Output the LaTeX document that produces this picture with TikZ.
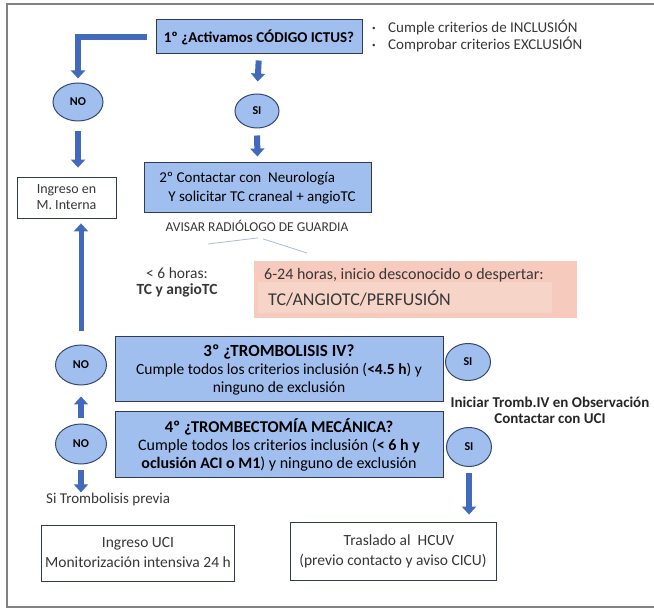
\documentclass[tikz,border=0pt]{standalone}
\usepackage{fontspec}
\setmainfont{Carlito}
\usetikzlibrary{arrows.meta, positioning, calc, shapes}
\definecolor{boxblue}{RGB}{160,190,238}
\definecolor{boxedge}{RGB}{50,58,80}
\definecolor{arrowblue}{RGB}{66,106,188}
\definecolor{circedge}{RGB}{52,72,112}
\definecolor{softpink}{RGB}{246,202,188}
\definecolor{palepink}{RGB}{247,212,200}
\definecolor{textgray}{RGB}{55,55,55}
\definecolor{framegray}{RGB}{130,130,130}
\definecolor{linkblue}{RGB}{165,190,210}

\begin{document}
\begin{tikzpicture}[x=1pt, y=-1pt,
  font=\fontsize{15}{18}\selectfont,
  bluebox/.style={draw=boxedge, fill=boxblue, line width=1pt, align=center, inner sep=2pt},
  whitebox/.style={draw=boxedge, fill=white, line width=0.8pt, align=center, text=textgray},
  answer/.style={ellipse, draw=circedge, fill=boxblue, line width=1pt, inner sep=0pt,
    minimum width=50pt, minimum height=38pt, font=\fontsize{12}{13}\selectfont\bfseries},
  blockarrow/.style={draw=arrowblue, line width=6pt, line join=miter,
    -{Triangle[length=8pt, width=14pt]}},
  note/.style={text=textgray, align=center, inner sep=1pt}]
  \useasboundingbox (0,0) rectangle (654,609);
  % page frame
  \draw[framegray, line width=1.2pt] (660,4) -- (7,4) -- (7,607) -- (660,607);
  % step 1
  \node[bluebox, minimum width=206pt, minimum height=34pt,
    font=\fontsize{15}{17}\selectfont\bfseries] (q1) at (259,37) {1º ¿Activamos CÓDIGO ICTUS?};
  \node[note, anchor=west, align=left, font=\fontsize{15}{17}\selectfont] (crit) at (371,36)
    {\makebox[16pt][l]{\raisebox{0.25ex}{\fontsize{7}{7}\selectfont\textbullet}}Cumple criterios de INCLUSIÓN\\
     \makebox[16pt][l]{\raisebox{0.25ex}{\fontsize{7}{7}\selectfont\textbullet}}Comprobar criterios EXCLUSIÓN};
  \node[answer] (no1) at (78,102) {NO};
  \node[answer, minimum width=44pt, minimum height=34pt] (si1) at (257,111) {SI};
  % step 2
  \node[bluebox, minimum width=227pt, minimum height=50pt, align=left,
    font=\fontsize{15}{19}\selectfont] (q2) at (257.5,188)
    {2º Contactar con \ Neurología\\ \hspace{9pt}Y solicitar TC craneal + angioTC};
  \node[whitebox, minimum width=99pt, minimum height=41pt,
    font=\fontsize{14}{16}\selectfont] (im) at (66.5,197.5) {Ingreso en\\ M. Interna};
  \node[note, font=\fontsize{13.5}{15}\selectfont] (avisar) at (257,226) {AVISAR RADIÓLOGO DE GUARDIA};
  \coordinate (lt6top) at (208,244);
  \coordinate (pinktop) at (307,253);
  \draw[linkblue, line width=0.8pt] ([xshift=1pt, yshift=-5pt]avisar.south) -- (lt6top);
  \draw[linkblue, line width=0.8pt] ([xshift=6pt, yshift=-6pt]avisar.south) -- (pinktop);
  % imaging
  \node[note, font=\fontsize{15.5}{16}\selectfont] (lt6) at (177,282) {< 6 horas:\\ \textbf{TC y angioTC}};
  \node[fill=softpink, minimum width=323pt, minimum height=57pt] (pink) at (415.5,289.5) {};
  \node[fill=palepink, minimum width=294pt, minimum height=31pt] (pinkin) at (405,297.5) {};
  \node[note, anchor=west, font=\fontsize{16}{18}\selectfont] (late) at (263,275)
    {6-24 horas, inicio desconocido o despertar:};
  \node[note, anchor=west, font=\fontsize{18}{20}\selectfont] (perf) at (267,298) {TC/ANGIOTC/PERFUSIÓN};
  % step 3 and 4
  \node[bluebox, minimum width=328pt, minimum height=65pt, font=\fontsize{15.5}{18}\selectfont] (q3) at (279,369.5)
    {{\fontsize{17}{18}\selectfont\bfseries 3º ¿TROMBOLISIS IV?}\\
     Cumple todos los criterios inclusión (\textbf{<4.5 h}) y\\ ninguno de exclusión};
  \node[bluebox, minimum width=328pt, minimum height=66pt, font=\fontsize{16}{18}\selectfont] (q4) at (279,445)
    {{\fontsize{16.5}{18}\selectfont\bfseries 4º ¿TROMBECTOMÍA MECÁNICA?}\\
     Cumple todos los criterios inclusión (\textbf{< 6 h y}\\
     \textbf{oclusión ACI o M1}) y ninguno de exclusión};
  \node[answer, minimum width=51pt, minimum height=40pt] (no3) at (81,365) {NO};
  \node[answer, minimum width=51pt, minimum height=40pt] (no4) at (81,444) {NO};
  \node[answer, minimum width=45pt, minimum height=37pt] (si3) at (468,362) {SI};
  \node[answer, minimum width=45pt, minimum height=39pt] (si4) at (469,447) {SI};
  \node[note, text=black!85, font=\fontsize{15}{16}\selectfont\bfseries] (iniciar) at (550,410)
    {Iniciar Tromb.IV en Observación\\ Contactar con UCI};
  \node[note, anchor=west, font=\fontsize{15}{16}\selectfont] (previa) at (45,500) {Si Trombolisis previa};
  % destinations
  \node[whitebox, minimum width=186pt, minimum height=56pt, font=\fontsize{15.5}{20}\selectfont] (uci) at (138,553)
    {Ingreso UCI\\ Monitorización intensiva 24 h};
  \node[whitebox, minimum width=206pt, minimum height=58pt, font=\fontsize{15.5}{20}\selectfont] (tras) at (393,551)
    {\hspace{12pt}Traslado al \ HCUV\\ (previo contacto y aviso CICU)};
  % arrows
  \draw[blockarrow, shorten >=4pt] ([xshift=-9pt]q1.west) -| (no1.north);
  \draw[blockarrow, shorten <=6pt, shorten >=12pt] (q1.south) -- (si1.north);
  \draw[blockarrow, shorten <=7pt, shorten >=6pt] (si1.south) -- (q2.north);
  \draw[blockarrow, shorten <=10pt, shorten >=9pt] (no1.south) -- (no1.south |- im.north);
  \draw[blockarrow, line width=5pt, shorten <=13pt, shorten >=5pt] (no3.north) -- (no3.north |- im.south);
  \draw[blockarrow, shorten <=5pt, shorten >=11pt] (no4.north) -- (no3.south);
  \draw[blockarrow, shorten <=6pt, shorten >=0pt] (no4.south) -- (no4.south |- previa.north);
  \draw[blockarrow, shorten <=6pt, shorten >=7pt] (si4.south) -- (tras.north -| si4.south);
\end{tikzpicture}
\end{document}
